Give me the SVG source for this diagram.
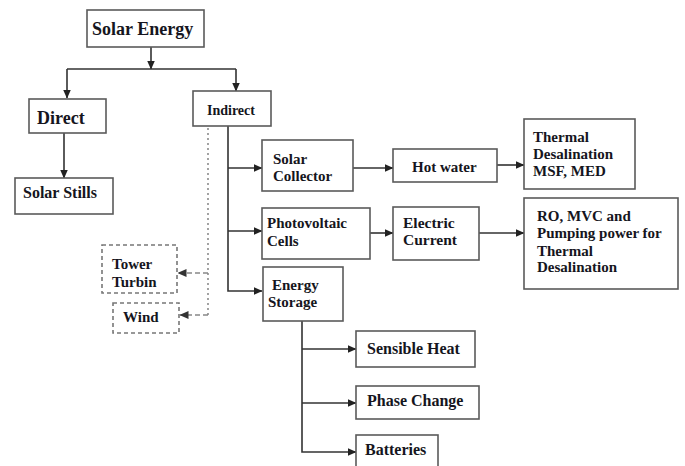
<svg xmlns="http://www.w3.org/2000/svg" width="685" height="466" viewBox="0 0 685 466">
<style>
.box{fill:#fff;stroke:#5a5a5a;stroke-width:1.6}
.dbox{fill:#fff;stroke:#777;stroke-width:1.6;stroke-dasharray:4,3}
.t{font-family:"Liberation Serif","Times New Roman",serif;font-weight:bold;font-size:15px;fill:#151520}
.c{stroke:#333;stroke-width:1.6;fill:none}
.d{stroke:#888;stroke-width:1.6;fill:none;stroke-dasharray:5,3}
.dv{stroke:#999;stroke-width:1.8;fill:none;stroke-dasharray:2,3}
</style>
<defs>
<marker id="a" markerUnits="userSpaceOnUse" markerWidth="9" markerHeight="8" refX="8.5" refY="4" orient="auto"><path d="M0,0 L9,4 L0,8 z" fill="#222"/></marker>
<marker id="ad" markerUnits="userSpaceOnUse" markerWidth="9" markerHeight="8" refX="8.5" refY="4" orient="auto"><path d="M0,0 L9,4 L0,8 z" fill="#333"/></marker>
</defs>
<rect width="685" height="466" fill="#fff"/>
<g id="connectors">
<path class="c" d="M151,47 V69" marker-end="url(#a)"/>
<path class="c" d="M67,69 H236"/>
<path class="c" d="M67,69 V98" marker-end="url(#a)"/>
<path class="c" d="M236,69 V91" marker-end="url(#a)"/>
<path class="c" d="M64,133 V178" marker-end="url(#a)"/>
<path class="c" d="M228,126 V291 H262" marker-end="url(#a)"/>
<path class="c" d="M228,168 H262" marker-end="url(#a)"/>
<path class="c" d="M228,231 H262" marker-end="url(#a)"/>
<path class="c" d="M353,168 H393" marker-end="url(#a)"/>
<path class="c" d="M497,165 H524" marker-end="url(#a)"/>
<path class="c" d="M370,233 H393" marker-end="url(#a)"/>
<path class="c" d="M479,233 H524" marker-end="url(#a)"/>
<path class="c" d="M302,321 V452 H356" marker-end="url(#a)"/>
<path class="c" d="M302,349 H356" marker-end="url(#a)"/>
<path class="c" d="M302,403 H356" marker-end="url(#a)"/>
<path class="dv" d="M208,128 V315"/>
<path class="d" d="M208,315 H180" marker-end="url(#ad)"/>
<path class="d" d="M208,273 H178" marker-end="url(#ad)"/>
</g>
<g id="solar-energy"><rect class="box" x="87" y="10" width="117" height="37"/><text class="t" x="92" y="35" style="font-size:18px">Solar Energy</text></g>
<g id="direct"><rect class="box" x="29" y="99" width="77" height="34"/><text class="t" x="37" y="124" style="font-size:18px">Direct</text></g>
<g id="indirect"><rect class="box" x="193" y="91" width="78" height="35"/><text class="t" x="207" y="115" style="font-size:14px">Indirect</text></g>
<g id="solar-stills"><rect class="box" x="15" y="178" width="98" height="36"/><text class="t" x="23" y="198" style="font-size:16px">Solar Stills</text></g>
<g id="solar-collector"><rect class="box" x="262" y="140" width="91" height="51"/><text class="t" x="273" y="164">Solar</text><text class="t" x="273" y="181">Collector</text></g>
<g id="hot-water"><rect class="box" x="393" y="149" width="104" height="33"/><text class="t" x="412" y="172">Hot water</text></g>
<g id="thermal-desalination"><rect class="box" x="524" y="119" width="111" height="70"/><text class="t" x="533" y="142">Thermal</text><text class="t" x="533" y="159">Desalination</text><text class="t" x="533" y="176">MSF, MED</text></g>
<g id="photovoltaic"><rect class="box" x="262" y="208" width="108" height="51"/><text class="t" x="267" y="228">Photovoltaic</text><text class="t" x="267" y="246">Cells</text></g>
<g id="electric-current"><rect class="box" x="393" y="207" width="86" height="53"/><text class="t" x="403" y="228" style="font-size:15.5px">Electric</text><text class="t" x="403" y="245" style="font-size:15.5px">Current</text></g>
<g id="ro-mvc"><rect class="box" x="524" y="198" width="154" height="91"/><text class="t" x="537" y="221">RO, MVC and</text><text class="t" x="537" y="238">Pumping power for</text><text class="t" x="537" y="256">Thermal</text><text class="t" x="537" y="272">Desalination</text></g>
<g id="energy-storage"><rect class="box" x="263" y="267" width="80" height="54"/><text class="t" x="272" y="290">Energy</text><text class="t" x="268" y="307">Storage</text></g>
<g id="sensible-heat"><rect class="box" x="356" y="331" width="119" height="36"/><text class="t" x="367" y="354" style="font-size:16px">Sensible Heat</text></g>
<g id="phase-change"><rect class="box" x="356" y="386" width="123" height="33"/><text class="t" x="367" y="406" style="font-size:16px">Phase Change</text></g>
<g id="batteries"><rect class="box" x="356" y="435" width="82" height="40"/><text class="t" x="365" y="455" style="font-size:16px">Batteries</text></g>
<g id="tower-turbin"><rect class="dbox" x="102" y="245" width="75" height="48"/><text class="t" x="112" y="269">Tower</text><text class="t" x="112" y="287">Turbin</text></g>
<g id="wind"><rect class="dbox" x="113" y="303" width="66" height="30"/><text class="t" x="123" y="322">Wind</text></g>
</svg>
